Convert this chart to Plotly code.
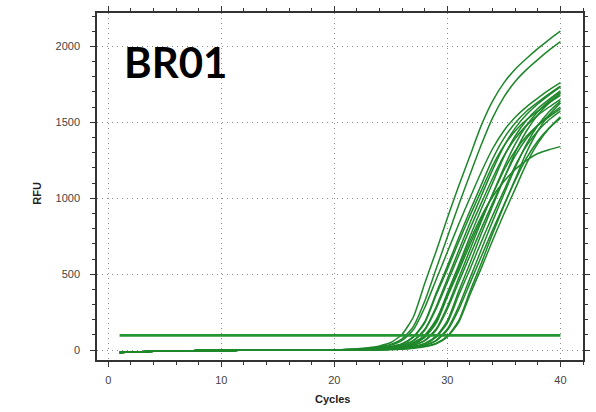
import plotly.graph_objects as go

CYCLES = list(range(1, 41))
TITLE = "BR01"
X_TICKS = [0, 10, 20, 30, 40]
Y_TICKS = [0, 500, 1000, 1500, 2000]
THRESHOLD = 97

# shared pre-amplification baseline, cycles 1-20
BASELINE = [-16, -13, -10, -8, -6, -5, -4, -3, -3, -2,
            -2, -1, -1, -1, 0, 0, 0, 0, 0, 0]

# amplification values, cycles 21-40
curve_01 = [5, 9, 16, 28, 50, 105, 220, 440, 650, 870, 1080, 1280, 1480, 1640, 1760, 1850, 1920, 1985, 2045, 2100]
curve_02 = [4, 7, 12, 22, 38, 74, 157, 323, 534, 745, 956, 1156, 1352, 1529, 1666, 1769, 1847, 1913, 1975, 2031]
curve_03 = [3, 6, 10, 19, 33, 64, 136, 281, 463, 646, 829, 1003, 1173, 1326, 1445, 1534, 1602, 1659, 1713, 1761]
curve_04 = [3, 4, 8, 14, 24, 43, 89, 187, 374, 553, 740, 918, 1088, 1258, 1394, 1496, 1573, 1632, 1687, 1738]
curve_05 = [2, 4, 7, 13, 23, 41, 86, 180, 361, 533, 713, 886, 1050, 1214, 1345, 1443, 1517, 1574, 1628, 1677]
curve_06 = [2, 3, 6, 10, 19, 34, 65, 138, 284, 469, 654, 839, 1015, 1187, 1342, 1462, 1552, 1621, 1679, 1733]
curve_07 = [2, 3, 6, 10, 18, 32, 62, 131, 271, 447, 623, 800, 968, 1132, 1279, 1394, 1480, 1546, 1601, 1652]
curve_08 = [2, 3, 4, 8, 14, 24, 43, 90, 189, 378, 559, 748, 929, 1101, 1273, 1410, 1514, 1591, 1651, 1707]
curve_09 = [2, 2, 4, 7, 13, 22, 40, 84, 176, 352, 520, 696, 864, 1024, 1184, 1312, 1408, 1480, 1536, 1588]
curve_10 = [1, 2, 3, 6, 10, 19, 34, 65, 139, 287, 474, 661, 848, 1027, 1201, 1357, 1479, 1570, 1640, 1698]
curve_11 = [1, 2, 3, 6, 10, 18, 32, 62, 131, 271, 447, 623, 800, 968, 1132, 1279, 1394, 1480, 1546, 1601]
curve_12 = [1, 2, 3, 4, 8, 14, 25, 44, 92, 194, 387, 572, 766, 950, 1126, 1302, 1443, 1549, 1628, 1690]
curve_13 = [1, 2, 2, 4, 7, 13, 23, 41, 86, 180, 361, 533, 713, 886, 1050, 1214, 1345, 1443, 1517, 1574]
curve_14 = [1, 1, 2, 3, 6, 10, 19, 34, 65, 139, 287, 474, 661, 848, 1027, 1201, 1357, 1479, 1570, 1640]
curve_15 = [1, 1, 2, 3, 6, 10, 18, 32, 61, 130, 267, 441, 616, 790, 956, 1118, 1264, 1377, 1462, 1527]
curve_16 = [1, 1, 2, 3, 4, 8, 14, 25, 44, 92, 194, 387, 572, 766, 950, 1126, 1302, 1443, 1549, 1628]
curve_17 = [1, 1, 2, 2, 4, 7, 13, 23, 42, 87, 183, 365, 540, 722, 896, 1062, 1228, 1361, 1461, 1536]
curve_18 = [1, 2, 4, 7, 13, 25, 50, 100, 200, 360, 540, 720, 880, 1010, 1110, 1190, 1250, 1295, 1320, 1340]

CURVES = [curve_01, curve_02, curve_03, curve_04, curve_05, curve_06, curve_07, curve_08, curve_09,
          curve_10, curve_11, curve_12, curve_13, curve_14, curve_15, curve_16, curve_17, curve_18]

LINE_COLOR = "rgb(30,135,42)"
THRESH_COLOR = "rgb(38,150,50)"

fig = go.Figure()

for vals in CURVES:
    fig.add_trace(go.Scatter(x=CYCLES, y=BASELINE + vals, mode="lines",
                             line=dict(color=LINE_COLOR, width=1.5, shape="spline", smoothing=0.6),
                             showlegend=False, hoverinfo="skip"))

fig.add_trace(go.Scatter(x=[CYCLES[0], CYCLES[-1]], y=[THRESHOLD, THRESHOLD], mode="lines",
                         line=dict(color=THRESH_COLOR, width=2.6), showlegend=False, hoverinfo="skip"))

axis_common = dict(showline=True, linecolor="#333", linewidth=1.5, mirror="ticks",
                   ticks="outside", ticklen=5, tickcolor="#333", tickwidth=1.3,
                   showgrid=True, gridcolor="rgb(140,140,140)", griddash="1px,4px", gridwidth=1,
                   zeroline=False, tickfont=dict(family="Liberation Sans, Arial", size=11, color="#444"))

fig.update_xaxes(range=[-1, 42], tickvals=X_TICKS,
                 minor=dict(dtick=2, tick0=0, ticks="outside", ticklen=3, tickcolor="#333", showgrid=False),
                 ticklabelstandoff=4, **axis_common)
fig.update_yaxes(range=[-65, 2220], tickvals=Y_TICKS,
                 minor=dict(dtick=100, tick0=0, ticks="outside", ticklen=3, tickcolor="#333", showgrid=False),
                 ticklabelstandoff=8, **axis_common)

fig.update_layout(
    width=596, height=412,
    margin=dict(l=97, r=11, t=6, b=52),
    paper_bgcolor="white", plot_bgcolor="white",
    annotations=[
        dict(text=TITLE, xref="paper", yref="paper", x=0.162, y=0.859, xanchor="center", yanchor="middle",
             showarrow=False, font=dict(family="Lato, Open Sans, Arial", size=42, color="black", weight="bold")),
        dict(text="<b>Cycles</b>", xref="paper", yref="paper", x=0.484, y=-0.113, xanchor="center", yanchor="middle",
             showarrow=False, font=dict(family="Liberation Sans, Arial", size=11, color="#222")),
        dict(text="<b>RFU</b>", xref="paper", yref="paper", x=-0.123, y=0.48, xanchor="center", yanchor="middle",
             textangle=-90, showarrow=False, font=dict(family="Liberation Sans, Arial", size=11, color="#222")),
    ],
)

fig.write_html("out.html", config={"displayModeBar": False},
               post_script="document.body.style.margin='0';")
